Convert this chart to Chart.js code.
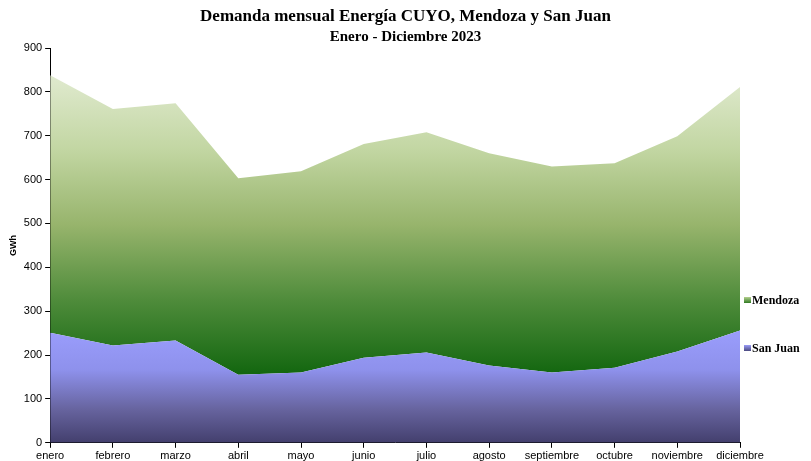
<!DOCTYPE html>
<html>
<head>
<meta charset="utf-8">
<script src="https://cdn.jsdelivr.net/npm/chart.js@4.4.0/dist/chart.umd.min.js"></script>
<style>
  html, body { margin: 0; padding: 0; background: #fff; }
  #wrap { width: 811px; height: 461px; position: relative; }
</style>
</head>
<body>
<div id="wrap"><canvas id="demandChart"></canvas></div>
<script>
// Datos (GWh)
const meses = ['enero', 'febrero', 'marzo', 'abril', 'mayo', 'junio', 'julio', 'agosto', 'septiembre', 'octubre', 'noviembre', 'diciembre'];
const sanJuan = [251, 222, 233, 155, 160, 194, 206, 176, 160, 171, 208, 256];
const mendoza = [587, 539, 541, 448, 459, 487, 502, 484, 470, 466, 491, 555];
const yTicks = [0, 100, 200, 300, 400, 500, 600, 700, 800, 900];
const titulo = 'Demanda mensual Energía CUYO, Mendoza y San Juan';
const subtitulo = 'Enero - Diciembre 2023';

// Degradado vertical entre dos valores del eje Y
function gradiente(chart, vTop, vBottom, stops) {
    const { ctx, chartArea, scales } = chart;
    if (!chartArea) return null;
    const y0 = scales.y.getPixelForValue(vTop);
    const y1 = scales.y.getPixelForValue(vBottom);
    const g = ctx.createLinearGradient(0, y0, 0, y1);
    stops.forEach(s => g.addColorStop(s[0], s[1]));
    return g;
}

const totales = meses.map((m, i) => sanJuan[i] + mendoza[i]);
const serif = '"Liberation Serif", "DejaVu Serif", serif';
const sans = '"Liberation Sans", Arial, sans-serif';

// Títulos centrados sobre todo el lienzo + leyenda a la derecha
const textos = {
    id: 'textos',
    afterDraw(chart) {
        const { ctx, chartArea } = chart;
        ctx.save();
        ctx.fillStyle = '#000';
        ctx.textAlign = 'center';
        ctx.textBaseline = 'middle';
        ctx.font = 'bold 17px ' + serif;
        ctx.fillText(titulo, chart.width / 2, 17);
        ctx.font = 'bold 15px ' + serif;
        ctx.fillText(subtitulo, chart.width / 2, 37);

        const x = chartArea.right + 4;
        const items = [
            { text: 'Mendoza', y: 300, c1: '#b5d08f', c2: '#2f7a22' },
            { text: 'San Juan', y: 348, c1: '#9a9cf8', c2: '#4b4a80' }
        ];
        ctx.textAlign = 'left';
        items.forEach(it => {
            const g = ctx.createLinearGradient(0, it.y - 3, 0, it.y + 3);
            g.addColorStop(0, it.c1);
            g.addColorStop(1, it.c2);
            ctx.fillStyle = g;
            ctx.fillRect(x, it.y - 3, 7, 6);
            ctx.fillStyle = '#000';
            ctx.font = 'bold 12px ' + serif;
            ctx.fillText(it.text, x + 8, it.y + 1);
        });
        ctx.restore();
    }
};

const ctx = document.getElementById('demandChart').getContext('2d');
const demandChart = new Chart(ctx, {
    type: 'line',
    data: {
        labels: meses,
        datasets: [{
            label: 'San Juan',
            data: sanJuan,
            fill: 'origin',
            borderWidth: 0,
            pointRadius: 0,
            backgroundColor: c => gradiente(c.chart, Math.max(...sanJuan), 0,
                [[0, '#9a9dfc'], [0.35, '#8e91ec'], [0.7, '#67649f'], [1, '#433f6d']])
        }, {
            label: 'Mendoza',
            data: mendoza,
            fill: '-1',
            borderWidth: 0,
            pointRadius: 0,
            backgroundColor: c => gradiente(c.chart, Math.max(...totales), Math.min(...sanJuan),
                [[0, '#e0eacf'], [0.25, '#c2d6a2'], [0.5, '#97b46c'], [0.75, '#4f8c3b'], [1, '#12660f']])
        }]
    },
    options: {
        responsive: true,
        maintainAspectRatio: false,
        animation: false,
        layout: { padding: { left: 8, right: 71, top: 48, bottom: -4 } },
        plugins: {
            legend: { display: false },
            tooltip: { enabled: false },
            title: { display: false }
        },
        scales: {
            x: {
                offset: false,
                border: { color: '#000', width: 1 },
                grid: { drawOnChartArea: false, color: '#000', tickLength: 5 },
                ticks: { color: '#000', font: { family: sans, size: 11 }, maxRotation: 0, autoSkip: false, padding: 2 }
            },
            y: {
                stacked: true,
                min: 0,
                max: 900,
                afterBuildTicks: axis => { axis.ticks = yTicks.map(v => ({ value: v })); },
                border: { color: '#000', width: 1 },
                grid: { drawOnChartArea: false, color: '#000', tickLength: 5 },
                ticks: { color: '#000', font: { family: sans, size: 11 }, padding: 3 },
                title: {
                    display: true,
                    text: 'GWh',
                    color: '#000',
                    font: { family: sans, size: 9, weight: 'bold' },
                    padding: { top: 0, bottom: 2 }
                }
            }
        }
    },
    plugins: [textos]
});
</script>
</body>
</html>
